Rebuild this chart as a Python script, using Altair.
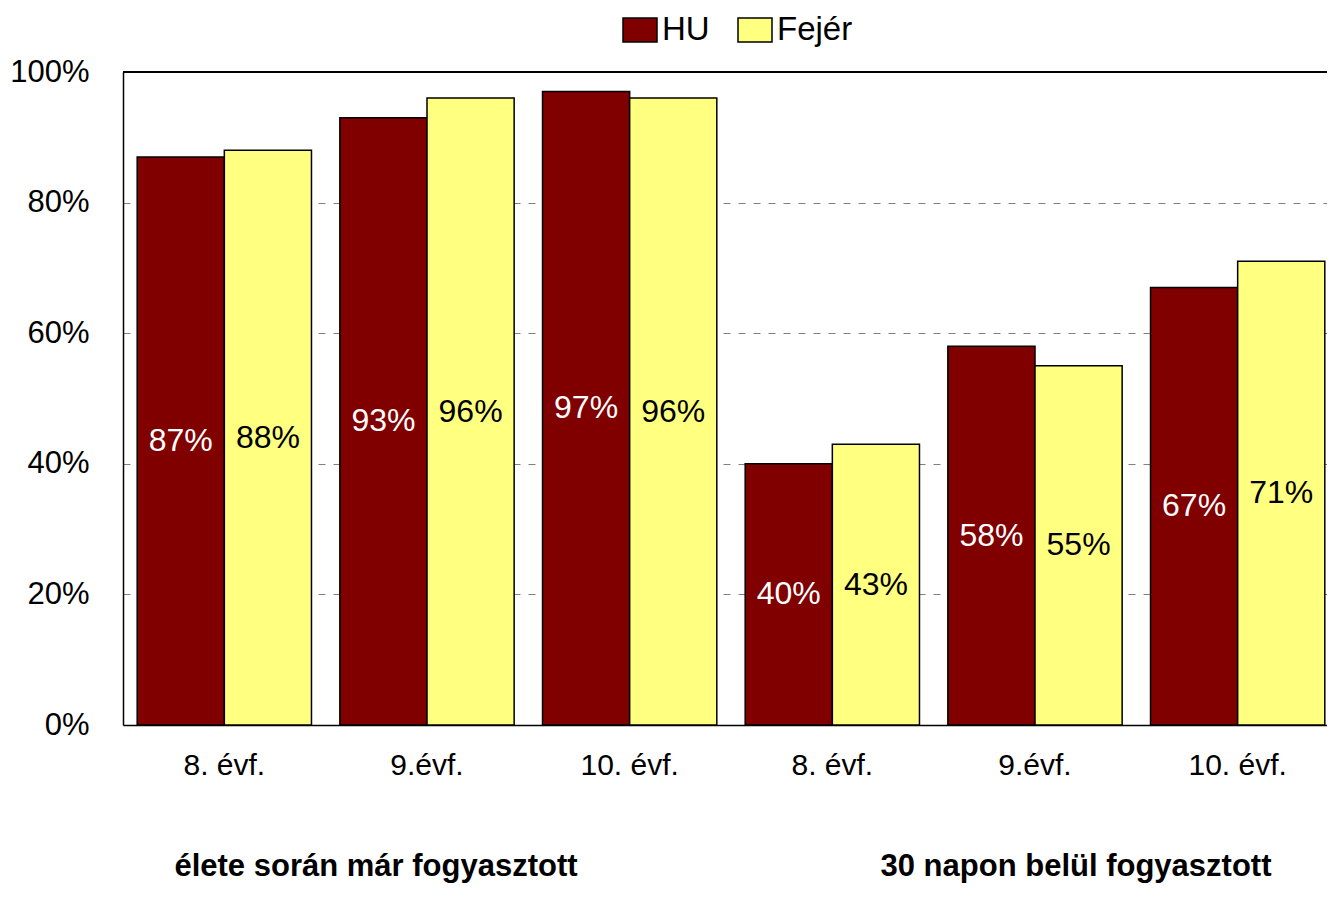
import altair as alt
import pandas as pd

groups = ["élete során már fogyasztott"] * 3 + ["30 napon belül fogyasztott"] * 3
grades = ["8. évf.", "9.évf.", "10. évf.", "8. évf.", "9.évf.", "10. évf."]
series = ["HU", "Fejér"]
hu = [87, 93, 97, 40, 58, 67]
fejer = [88, 96, 96, 43, 55, 71]
group_titles = ["élete során már fogyasztott", "30 napon belül fogyasztott"]
colors = ["#800000", "#FFFF80"]

FONT = "Liberation Sans, Arial, sans-serif"

keys = [f"{i}|{g}" for i, g in enumerate(grades)]
rows = []
for i, k in enumerate(keys):
    for s, vals in zip(series, [hu, fejer]):
        rows.append({"key": k, "series": s, "value": vals[i] / 100.0,
                     "mid": vals[i] / 200.0, "label": f"{vals[i]}%"})
df = pd.DataFrame(rows)

xscale = alt.Scale(paddingInner=0.14, paddingOuter=0.07, range=[0, 1216])
xaxis = alt.Axis(title=None, labelExpr="split(datum.label,'|')[1]", labelAngle=0,
                 ticks=False, domainColor="black", domainWidth=1.5,
                 labelFontSize=30, labelPadding=25, labelColor="black",
                 labelBaseline="top", grid=False)
yaxis = alt.Axis(title=None, format="%", values=[0, 0.2, 0.4, 0.6, 0.8, 1.0],
                 ticks=False, domainColor="black", domainWidth=1.5,
                 labelFontSize=31, labelPadding=34, labelColor="black",
                 grid=True, gridColor="#808080", gridDash=[7, 8], gridWidth=1)

X = alt.X("key:N", sort=keys, scale=xscale, axis=xaxis)
XO = alt.XOffset("series:N", sort=series)

bars = alt.Chart(df).mark_bar(stroke="black", strokeWidth=1.5).encode(
    x=X,
    xOffset=XO,
    y=alt.Y("value:Q", scale=alt.Scale(domain=[0, 1]), axis=yaxis),
    color=alt.Color("series:N", sort=series,
                    scale=alt.Scale(domain=series, range=colors),
                    legend=alt.Legend(title=None, orient="none", legendX=499, legendY=-60,
                                      direction="horizontal", labelFontSize=33,
                                      labelColor="black",
                                      symbolType="M-1,-0.7H1V0.7H-1Z", symbolSize=1156,
                                      symbolStrokeColor="black", symbolStrokeWidth=1.5,
                                      symbolOpacity=1, labelOffset=4, columnPadding=25,
                                      labelLimit=300)),
)

labels = alt.Chart(df).mark_text(fontSize=32, baseline="middle").encode(
    x=X,
    xOffset=XO,
    y=alt.Y("mid:Q"),
    text="label:N",
    color=alt.condition(alt.datum.series == "HU", alt.value("white"), alt.value("black")),
)

top = alt.Chart(pd.DataFrame({"top": [1.0]})).mark_rule(color="black", strokeWidth=2).encode(
    y="top:Q"
)

gdf1 = pd.DataFrame({"key": [keys[1]], "title": [group_titles[0]]})
gdf2 = pd.DataFrame({"key": [keys[4]], "title": [group_titles[1]]})
g1 = alt.Chart(gdf1).mark_text(fontSize=31, fontWeight="bold", baseline="alphabetic",
                               dx=-51, color="black").encode(
    x=X, y=alt.value(804), text="title:N")
g2 = alt.Chart(gdf2).mark_text(fontSize=31, fontWeight="bold", baseline="alphabetic",
                               dx=41, color="black").encode(
    x=X, y=alt.value(804), text="title:N")

chart = alt.layer(bars, labels, top, g1, g2).properties(
    width=1204, height=653, autosize="none",
    padding={"left": 115, "top": 64, "right": 0, "bottom": 161},
).configure(font=FONT).configure_view(stroke=None)

chart.save("out.html", embed_options={"renderer": "svg", "actions": False})
